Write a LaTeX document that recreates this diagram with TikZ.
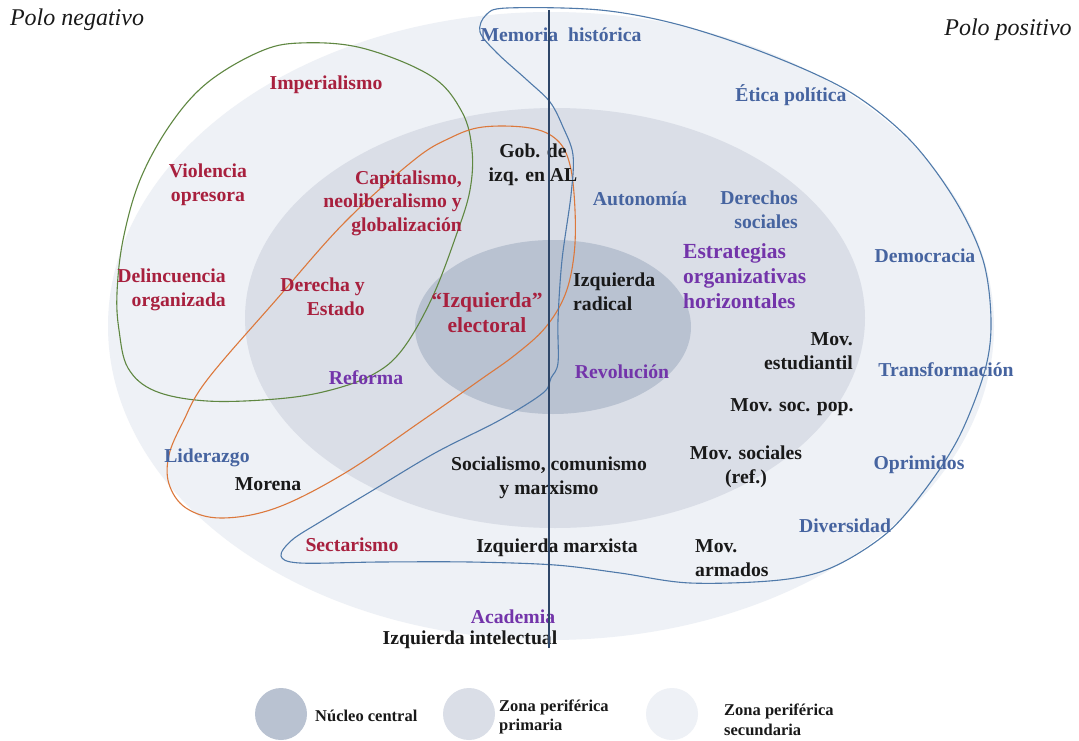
\documentclass[tikz,border=0pt]{standalone}
\usepackage{fontspec}
\setmainfont{Liberation Serif}
\definecolor{zsec}{RGB}{238,241,246}
\definecolor{zpri}{RGB}{218,222,231}
\definecolor{zcore}{RGB}{185,194,209}
\definecolor{vline}{RGB}{46,70,104}
\definecolor{cblue}{RGB}{80,122,170}
\definecolor{cgreen}{RGB}{95,135,65}
\definecolor{corange}{RGB}{220,120,60}
\definecolor{tred}{RGB}{168,32,62}
\definecolor{tblue}{RGB}{70,100,160}
\definecolor{tpurple}{RGB}{115,52,170}
\definecolor{tblack}{RGB}{25,25,25}
\begin{document}
\begin{tikzpicture}[x=1pt,y=-1pt,
  lbl/.style={font=\fontsize{19.7}{23.5}\selectfont\bfseries, inner sep=0pt, align=center},
  big/.style={font=\fontsize{21.5}{25}\selectfont\bfseries, inner sep=0pt},
  rl/.style={lbl, text=tred},
  bl/.style={lbl, text=tblue},
  pl/.style={lbl, text=tpurple},
  kl/.style={lbl, text=tblack},
  pole/.style={font=\fontsize{24}{28}\selectfont\itshape, inner sep=0pt, text=tblack},
  leg/.style={font=\fontsize{16.5}{19.5}\selectfont\bfseries, inner sep=0pt, align=left, text=tblack, anchor=west},
  curve/.style={line width=1.1pt}
]
\useasboundingbox (0,0) rectangle (1079,741);
\fill[white] (0,0) rectangle (1079,741);
% zones
\fill[zsec] (551,326) ellipse [x radius=443, y radius=314];
\fill[zpri] (555,318) ellipse [x radius=310, y radius=210];
\fill[zcore] (553,327) ellipse [x radius=138, y radius=87];
% closed curves
\draw[curve, cgreen] plot[smooth cycle, tension=0.6] coordinates {
 (300,43) (362,48) (431,76) (462,112) (472,150) (470,190) (457,233) (432,298)
 (402,350) (372,375) (327,391) (276,399) (207,401) (155,391) (128,368) (119,330)
 (117,293) (123,240) (140,180) (170,125) (207,83) (259,52)};
\draw[curve, corange] plot[smooth cycle, tension=0.6] coordinates {
 (483,127) (530,128) (557,140) (570,165) (575,210) (574,255) (565,295) (545,328)
 (515,355) (480,380) (423,420) (345,473) (276,508) (221,518) (186,508)
 (169,484) (169,455) (183,422) (207,380) (276,300) (345,222)
 (414,160) (450,138)};
\draw[curve, cblue] plot[smooth cycle, tension=0.55] coordinates {
 (507,8) (600,10) (680,25) (770,55) (850,92) (910,140) (955,200) (983,260)
 (991,320) (985,370) (960,435) (927,487) (887,533) (833,567) (780,580) (690,583)
 (620,573) (555,565) (470,562) (380,562) (300,563) (281,556) (292,540) (320,522)
 (370,492) (435,453) (500,420) (543,393) (551,378) (558,363) (558,320) (562,260)
 (571,195) (573,155) (563,127) (550,102) (527,80) (497,53) (480,32) (486,15)};
% poles
\node[pole] (pneg) at (77,20) {Polo negativo};
\node[pole] (ppos) at (1008,30) {Polo positivo};
% labels
\node[bl] (memo) at (561,35) {Memoria\ \ histórica};
\node[bl] (etica) at (791,95) {Ética política};
\node[rl] (imp) at (326,85) {Imperialismo};
\node[rl] (viol) at (208,185) {Violencia\\opresora};
\node[rl, align=right, anchor=east] (cap) at (462,203) {Capitalismo,\\neoliberalismo y\\globalización};
\node[kl] (gob) at (533,165) {Gob. de\\izq. en AL};
\node[bl] (auto) at (640,199) {Autonomía};
\node[bl, align=right, anchor=east] (der) at (798,210) {Derechos\\sociales};
\node[rl, align=right, anchor=east] (delin) at (226,290) {Delincuencia\\organizada};
\node[rl, align=right, anchor=east] (dere) at (365,297) {Derecha y\\Estado};
\node[big, text=tred, align=center] (elec) at (487,313) {“Izquierda”\\electoral};
\node[kl, align=left, anchor=west] (rad) at (573,292) {Izquierda\\radical};
\node[big, text=tpurple, align=left, anchor=west] (estr) at (683,276) {Estrategias\\organizativas\\horizontales};
\node[bl] (demo) at (925,256) {Democracia};
\node[kl, align=right, anchor=east] (estu) at (853,351) {Mov.\\estudiantil};
\node[bl] (trans) at (946,370) {Transformación};
\node[pl] (refo) at (366,378) {Reforma};
\node[pl] (revo) at (622,372) {Revolución};
\node[kl] (socpop) at (792,407) {Mov. soc. pop.};
\node[bl] (lide) at (207,458) {Liderazgo};
\node[kl] (more) at (268,484) {Morena};
\node[kl] (soci) at (549,478) {Socialismo, comunismo\\y marxismo};
\node[kl] (movs) at (746,467) {Mov. sociales\\(ref.)};
\node[bl] (opri) at (919,465) {Oprimidos};
\node[bl] (dive) at (845,526) {Diversidad};
\node[rl] (sect) at (352,545) {Sectarismo};
\node[kl] (imar) at (557,548) {Izquierda marxista};
\node[kl, align=left, anchor=west] (arm) at (695,558) {Mov.\\armados};
\node[pl] (acad) at (513,617) {Academia};
\node[kl] (iint) at (470,640) {Izquierda intelectual};
% vertical axis
\coordinate (vtop) at (549,10);
\coordinate (vbot) at (549,648);
\draw[vline, line width=2.2pt] (vtop) -- (vbot);
% legend
\fill[zcore] (281,714) circle [radius=26];
\fill[zpri] (469,714) circle [radius=26];
\fill[zsec] (672,714) circle [radius=26];
\node[leg] (l1) at (315,716) {Núcleo central};
\node[leg] (l2) at (499,717) {Zona periférica\\primaria};
\node[leg] (l3) at (724,720) {Zona periférica\\secundaria};
\end{tikzpicture}
\end{document}
